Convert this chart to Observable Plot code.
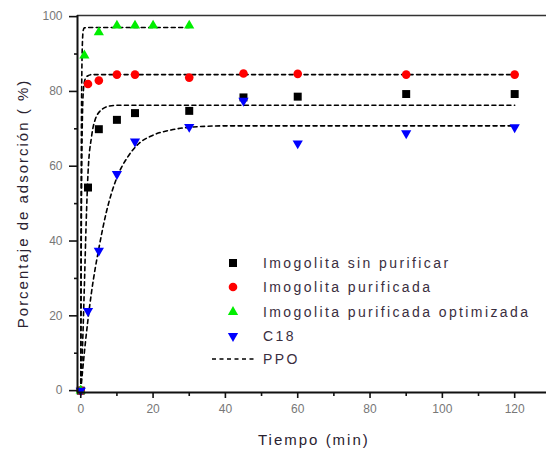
<!DOCTYPE html>
<html>
<head>
<meta charset="utf-8">
<script src="https://cdn.jsdelivr.net/npm/d3@7"></script>
<script src="https://cdn.jsdelivr.net/npm/@observablehq/plot@0.6"></script>
<style>
  body { margin: 0; background: #fff; }
  #wrap { position: relative; width: 546px; height: 452px; overflow: hidden; font-family: "Liberation Sans", Arial, sans-serif; }
  #wrap svg { position: absolute; left: 0; top: 0; }
  .ttl { position: absolute; color: #2a2230; font-size: 15px; letter-spacing: 2px; white-space: nowrap; line-height: 1; }
  .leg { position: absolute; color: #3a2e3e; font-size: 14px; letter-spacing: 2.4px; white-space: nowrap; line-height: 1; }
</style>
</head>
<body>
<div id="wrap"></div>
<script>
// ---- data ----
const tiempo      = [0, 2, 5, 10, 15, 30, 45, 60, 90, 120];
const tiempoOpt   = [0, 1, 5, 10, 15, 20, 30];
const sinPurificar = [0, 54.3, 69.9, 72.4, 74.2, 74.8, 78.4, 78.6, 79.3, 79.3];
const purificada   = [0, 82.0, 82.9, 84.5, 84.5, 83.7, 84.8, 84.7, 84.5, 84.5];
const optimizada   = [0, 89.6, 95.8, 97.6, 97.6, 97.6, 97.6];
const c18          = [0, 21.3, 37.4, 57.9, 66.6, 70.5, 77.5, 66.1, 68.8, 70.4];

// PPO fitted curves
const ppoSinT = [0, 0.5, 1, 1.5, 2, 3, 4, 6, 8, 10, 120];
const ppoSin  = [0, 12, 28, 45, 58, 68, 72.5, 75.3, 76.1, 76.3, 76.3];
const ppoPurT = [0, 0.1, 0.2, 0.3, 0.5, 0.75, 1, 1.5, 2, 3, 120];
const ppoPur  = [0, 30, 50, 62, 75, 80.5, 82.5, 83.8, 84.2, 84.5, 84.5];
const ppoOptT = [0, 0.1, 0.2, 0.3, 0.4, 0.5, 0.7, 1, 2, 30];
const ppoOpt  = [0, 49, 73, 85, 91, 94, 96.4, 97, 97.1, 97.1];
const ppoC18T = [0, 1, 2, 3, 5, 7, 10, 13, 16, 20, 25, 30, 40, 120];
const ppoC18  = [0, 10.2, 19, 26.5, 38, 47.4, 57, 62.5, 66, 68.3, 69.7, 70.4, 70.8, 70.8];

const xMajor = [0, 20, 40, 60, 80, 100, 120];
const xMinor = [10, 30, 50, 70, 90, 110];
const yMajor = [0, 20, 40, 60, 80, 100];
const yMinor = [10, 30, 50, 70, 90];

const series = ["Imogolita sin purificar", "Imogolita purificada", "Imogolita purificada optimizada", "C18"];
const colors = ["#000000", "#ff0000", "#00ee00", "#0000ff"];
const xDomain = [-0.9, 128.8];
const yDomain = [-0.5, 100.3];

// ---- tables ----
const pts = (ts, vs) => ts.map((t, i) => ({t, v: vs[i]}));
const dSin = pts(tiempo, sinPurificar);
const dPur = pts(tiempo, purificada);
const dOpt = pts(tiempoOpt, optimizada);
const dC18 = pts(tiempo, c18);
const cSin = pts(ppoSinT, ppoSin);
const cPur = pts(ppoPurT, ppoPur);
const cOpt = pts(ppoOptT, ppoOpt);
const cC18 = pts(ppoC18T, ppoC18);

const triDown = {
  draw(ctx, size) {
    const y = -Math.sqrt(size / (Math.sqrt(3) * 3));
    ctx.moveTo(0, -2 * y);
    ctx.lineTo(-Math.sqrt(3) * y, y);
    ctx.lineTo(Math.sqrt(3) * y, y);
    ctx.closePath();
  }
};

const lineOpts = {x: "t", y: "v", stroke: "#000", strokeWidth: 1.6, strokeDasharray: "4,3.5", curve: "monotone-x"};

const chart = Plot.plot({
  width: 546,
  height: 452,
  marginLeft: 77,
  marginRight: 0,
  marginTop: 15,
  marginBottom: 60,
  style: {background: "transparent", fontFamily: "Liberation Sans, Arial, sans-serif"},
  x: {domain: xDomain, axis: null},
  y: {domain: yDomain, axis: null},
  marks: [
    Plot.line(cSin, lineOpts),
    Plot.line(cPur, lineOpts),
    Plot.line(cOpt, lineOpts),
    Plot.line(cC18, lineOpts),
    Plot.dot(dSin, {x: "t", y: "v", symbol: "square", r: 4.5, fill: colors[0]}),
    Plot.dot(dPur, {x: "t", y: "v", symbol: "circle", r: 4.3, fill: colors[1]}),
    Plot.dot(dOpt, {x: "t", y: "v", symbol: "triangle", r: 3.8, fill: colors[2]}),
    Plot.dot(dC18, {x: "t", y: "v", symbol: triDown, r: 3.8, fill: colors[3]}),
    Plot.ruleY([yDomain[1]], {stroke: "#333", strokeWidth: 1.5}),
    Plot.ruleX([xDomain[0]], {stroke: "#111", strokeWidth: 2}),
    Plot.ruleY([yDomain[0]], {stroke: "#111", strokeWidth: 2}),
    Plot.axisX({ticks: xMajor, tickSize: 6, text: null, label: null, color: "#111", strokeWidth: 1.6, anchor: "bottom"}),
    Plot.axisX({ticks: xMinor, tickSize: 4, text: null, label: null, color: "#111", strokeWidth: 1.6, anchor: "bottom"}),
    Plot.axisX({ticks: xMajor, tickSize: 0, tickPadding: 12, label: null, color: "#777", fontSize: 12, anchor: "bottom", tickFormat: d => d}),
    Plot.axisY({ticks: yMajor, tickSize: 8, text: null, label: null, color: "#111", strokeWidth: 1.6, anchor: "left"}),
    Plot.axisY({ticks: yMinor, tickSize: 3, text: null, label: null, color: "#111", strokeWidth: 1.6, anchor: "left"}),
    Plot.axisY({ticks: yMajor, tickSize: 0, tickPadding: 15, label: null, color: "#777", fontSize: 12, anchor: "left", tickFormat: d => d})
  ]
});

const wrap = document.getElementById("wrap");
wrap.appendChild(chart);

// axis titles
const xt = document.createElement("div");
xt.className = "ttl";
xt.textContent = "Tiempo (min)";
wrap.appendChild(xt);
xt.style.left = (314 - xt.offsetWidth / 2) + "px";
xt.style.top = "432px";

const yt = document.createElement("div");
yt.className = "ttl";
yt.textContent = "Porcentaje de adsorción ( %)";
wrap.appendChild(yt);
const w = yt.offsetWidth, h = yt.offsetHeight;
yt.style.left = (22 - w / 2) + "px";
yt.style.top = (203 - h / 2) + "px";
yt.style.transform = "rotate(-90deg)";

// legend
const ns = "http://www.w3.org/2000/svg";
const legSvg = document.createElementNS(ns, "svg");
legSvg.setAttribute("width", 546);
legSvg.setAttribute("height", 452);
legSvg.style.pointerEvents = "none";
wrap.appendChild(legSvg);
const symbols = [d3.symbolSquare, d3.symbolCircle, d3.symbolTriangle, triDown];
const sizes = [Math.PI * 4.5 * 4.5, Math.PI * 4.3 * 4.3, Math.PI * 3.8 * 3.8, Math.PI * 3.8 * 3.8];
const rowY = [263, 287, 312, 336, 359];
series.forEach((name, i) => {
  const p = document.createElementNS(ns, "path");
  p.setAttribute("d", d3.symbol(symbols[i], sizes[i])());
  p.setAttribute("transform", `translate(233,${rowY[i]})`);
  p.setAttribute("fill", colors[i]);
  legSvg.appendChild(p);
  const t = document.createElement("div");
  t.className = "leg";
  t.textContent = name;
  wrap.appendChild(t);
  t.style.left = "263px";
  t.style.top = (rowY[i] - t.offsetHeight / 2) + "px";
});
const ln = document.createElementNS(ns, "line");
ln.setAttribute("x1", 212); ln.setAttribute("x2", 254);
ln.setAttribute("y1", rowY[4]); ln.setAttribute("y2", rowY[4]);
ln.setAttribute("stroke", "#000"); ln.setAttribute("stroke-width", 1.6);
ln.setAttribute("stroke-dasharray", "4,3.5");
legSvg.appendChild(ln);
const pt = document.createElement("div");
pt.className = "leg";
pt.textContent = "PPO";
wrap.appendChild(pt);
pt.style.left = "263px";
pt.style.top = (rowY[4] - pt.offsetHeight / 2) + "px";
</script>
</body>
</html>
